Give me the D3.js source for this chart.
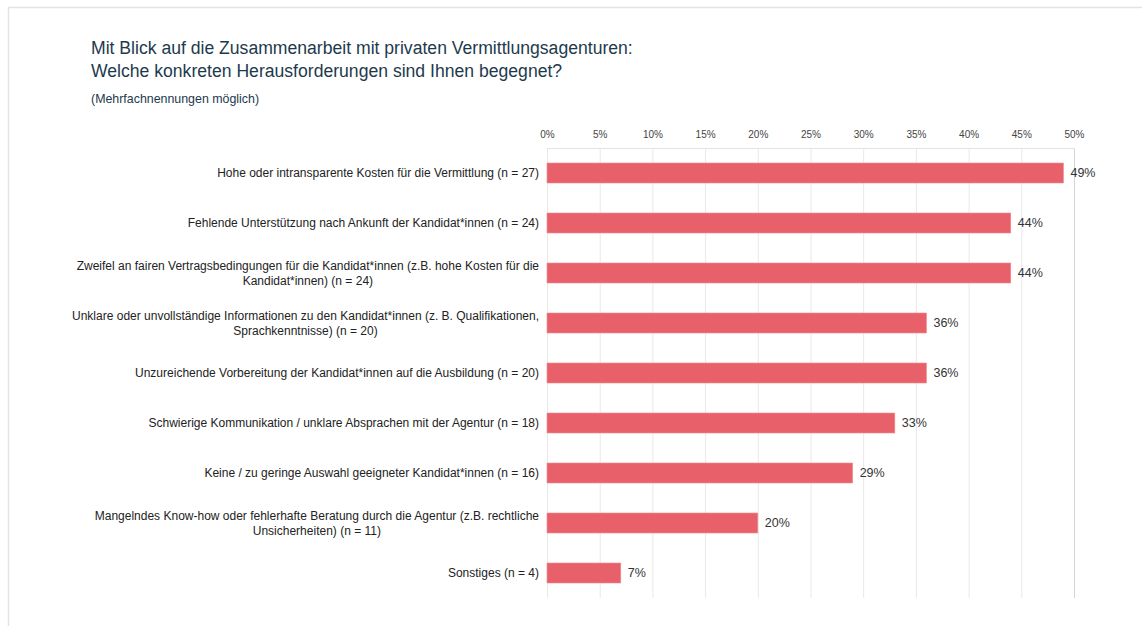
<!DOCTYPE html>
<html>
<head>
<meta charset="utf-8">
<script src="https://cdn.jsdelivr.net/npm/d3@7"></script>
<style>
  html, body { margin: 0; padding: 0; background: #fff; }
  svg { display: block; font-family: "Liberation Sans", Arial, sans-serif; }
</style>
</head>
<body>
<svg id="chart" width="1142" height="626"></svg>
<script>
// Challenges in working with private recruitment agencies (multiple answers)
const categories = [
  ["Hohe oder intransparente Kosten für die Vermittlung (n = 27)"],
  ["Fehlende Unterstützung nach Ankunft der Kandidat*innen (n = 24)"],
  ["Zweifel an fairen Vertragsbedingungen für die Kandidat*innen (z.B. hohe Kosten für die", "Kandidat*innen) (n = 24)"],
  ["Unklare oder unvollständige Informationen zu den Kandidat*innen (z. B. Qualifikationen,", "Sprachkenntnisse) (n = 20)"],
  ["Unzureichende Vorbereitung der Kandidat*innen auf die Ausbildung (n = 20)"],
  ["Schwierige Kommunikation / unklare Absprachen mit der Agentur (n = 18)"],
  ["Keine / zu geringe Auswahl geeigneter Kandidat*innen (n = 16)"],
  ["Mangelndes Know-how oder fehlerhafte Beratung durch die Agentur (z.B. rechtliche", "Unsicherheiten) (n = 11)"],
  ["Sonstiges (n = 4)"]
];
const shares = [49, 44, 44, 36, 36, 33, 29, 20, 7];
const tickValues = [0, 5, 10, 15, 20, 25, 30, 35, 40, 45, 50];

const titleLines = [
  "Mit Blick auf die Zusammenarbeit mit privaten Vermittlungsagenturen:",
  "Welche konkreten Herausforderungen sind Ihnen begegnet?"
];
const subtitle = "(Mehrfachnennungen möglich)";

const svg = d3.select("#chart");

// outer frame (top and left edges)
svg.append("path")
  .attr("d", "M8.5,626 V7.5 H1142")
  .attr("fill", "none")
  .attr("stroke", "#e3e3e3")
  .attr("stroke-width", 1.5);

// titles
const title = svg.append("text")
  .attr("x", 91).attr("y", 54)
  .attr("fill", "#1d3a4d")
  .attr("font-size", 17.6);
title.selectAll("tspan").data(titleLines).join("tspan")
  .attr("x", 91)
  .attr("dy", (d, i) => i === 0 ? 0 : 23)
  .text(d => d);

svg.append("text")
  .attr("x", 91).attr("y", 103)
  .attr("fill", "#1d3a4d")
  .attr("font-size", 12.4)
  .text(subtitle);

// plot geometry
const plotLeft = 547, plotRight = 1074, plotTop = 148, plotBottom = 598;

const x = d3.scaleLinear().domain([0, 50]).range([plotLeft, plotRight]);
const y = d3.scaleBand().domain(d3.range(categories.length)).range([plotTop, plotBottom]).paddingInner(0.6).paddingOuter(0.3);

// vertical gridlines
svg.append("g")
  .selectAll("line").data(tickValues).join("line")
  .attr("x1", d => x(d) + 0.5).attr("x2", d => x(d) + 0.5)
  .attr("y1", plotTop).attr("y2", plotBottom)
  .attr("stroke", d => d === 50 ? "#d4d4d4" : "#e8e8e8")
  .attr("stroke-width", 1);

// plot top edge
svg.append("line")
  .attr("x1", plotLeft).attr("x2", plotRight + 1)
  .attr("y1", plotTop + 0.5).attr("y2", plotTop + 0.5)
  .attr("stroke", "#e3e3e3");

// top axis labels
const axis = d3.axisTop(x).tickValues(tickValues).tickFormat(d => d + "%").tickSize(0).tickPadding(0);
const axisG = svg.append("g").attr("transform", `translate(0,${plotTop - 10})`).call(axis);
axisG.select(".domain").remove();
axisG.selectAll("text")
  .attr("font-family", "Liberation Sans, Arial, sans-serif")
  .attr("font-size", 10)
  .attr("fill", "#444");

// bars
svg.append("g")
  .selectAll("rect").data(shares).join("rect")
  .attr("x", x(0))
  .attr("y", (d, i) => y(i))
  .attr("width", d => x(d) - x(0))
  .attr("height", y.bandwidth())
  .attr("fill", "#e8616a")
  .attr("stroke", "#f08a90")
  .attr("stroke-width", 0.6);

// value labels
svg.append("g")
  .selectAll("text").data(shares).join("text")
  .attr("x", d => x(d) + 7)
  .attr("y", (d, i) => y(i) + y.bandwidth() / 2)
  .attr("dy", "0.35em")
  .attr("font-size", 12.5)
  .attr("fill", "#333")
  .text(d => d + "%");

// category labels: right-aligned block, lines centred within it
const labelRight = 539;
const labelG = svg.append("g").attr("font-size", 12).attr("fill", "#222");
categories.forEach((lines, i) => {
  const cy = y(i) + y.bandwidth() / 2;
  const t = labelG.append("text").attr("text-anchor", "middle");
  const lh = 15;
  const spans = t.selectAll("tspan").data(lines).join("tspan")
    .attr("y", (d, j) => cy + (j - (lines.length - 1) / 2) * lh)
    .attr("dy", "0.35em")
    .text(d => d);
  const widths = [];
  spans.each(function () { widths.push(this.getComputedTextLength()); });
  const w = d3.max(widths);
  spans.attr("x", labelRight - w / 2);
});
</script>
</body>
</html>
